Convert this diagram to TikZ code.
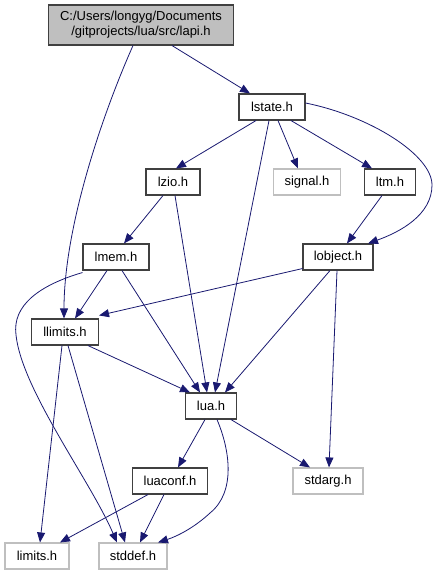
\documentclass[tikz,border=0pt]{standalone}
\usepackage{fontspec}
\setmainfont{Liberation Sans}
\usepackage{xcolor}
\usepackage{tikz}
\usetikzlibrary{arrows.meta}
\definecolor{edgeblue}{HTML}{191970}
\definecolor{sysgray}{HTML}{BFBFBF}
\definecolor{hdrline}{HTML}{404040}

\begin{document}
\begin{tikzpicture}[x=1pt, y=-1pt,
  hdr/.style={draw=hdrline, line width=1.1pt, fill=white, align=center, inner sep=2pt,
              font=\fontsize{13}{15}\selectfont, minimum height=26pt},
  sys/.style={hdr, draw=sysgray},
  root/.style={hdr, fill=sysgray},
  arr/.style={-{Triangle[length=10pt, width=8pt]}, line width=0.8pt, edgeblue}]
  \useasboundingbox (0,0) rectangle (439,575);
  \node[root, minimum width=185pt, minimum height=40pt] (lapi) at (141,25) {C:/Users/longyg/Documents\\/gitprojects/lua/src/lapi.h};
  \node[hdr, minimum width=66pt] (lstate) at (272,107) {lstate.h};
  \node[hdr, minimum width=54pt] (lzio) at (173,182) {lzio.h};
  \node[sys, minimum width=67pt] (signal) at (307,182) {signal.h};
  \node[hdr, minimum width=51pt] (ltm) at (390,182) {ltm.h};
  \node[hdr, minimum width=66pt] (lmem) at (116,257) {lmem.h};
  \node[hdr, minimum width=70pt] (lobject) at (338,257) {lobject.h};
  \node[hdr, minimum width=67pt] (llimits) at (65,332) {llimits.h};
  \node[hdr, minimum width=51pt] (lua) at (211,406) {lua.h};
  \node[hdr, minimum width=75pt] (luaconf) at (170,481) {luaconf.h};
  \node[sys, minimum width=70pt] (stdarg) at (328,481) {stdarg.h};
  \node[sys, minimum width=64pt] (limits) at (37,556) {limits.h};
  \node[sys, minimum width=68pt] (stddef) at (133,556) {stddef.h};
  % lapi.h
  \draw[arr] ([xshift=31pt]lapi.south) -- ([xshift=-22pt]lstate.north);
  \draw[arr] ([xshift=-8pt]lapi.south) .. controls (100,120) and (64,230) .. ([xshift=-1pt]llimits.north);
  % lstate.h
  \draw[arr] ([xshift=-16pt]lstate.south) -- ([xshift=3pt]lzio.north);
  \draw[arr] ([xshift=-3pt]lstate.south) -- ([xshift=4pt]lua.north);
  \draw[arr] ([xshift=6pt]lstate.south) -- ([xshift=-9pt]signal.north);
  \draw[arr] ([xshift=19pt]lstate.south) -- ([xshift=-18pt]ltm.north);
  \draw[arr] ([yshift=4pt]lstate.east) .. controls (370,116) and (432,155) .. (432,185)
    .. controls (432,215) and (400,232) .. ([xshift=30pt]lobject.north);
  % lzio.h, ltm.h
  \draw[arr] ([xshift=-10pt]lzio.south) -- ([xshift=8pt]lmem.north);
  \draw[arr] ([xshift=2pt]lzio.south) -- ([xshift=-4pt]lua.north);
  \draw[arr] ([xshift=-8pt]ltm.south) -- ([xshift=9pt]lobject.north);
  % lmem.h
  \draw[arr] ([xshift=-9pt]lmem.south) -- ([xshift=10pt]llimits.north);
  \draw[arr] ([xshift=6pt]lmem.south) -- ([xshift=-11pt]lua.north);
  \draw[arr] ([yshift=-2pt]lmem.south west) .. controls (40,285) and (12,305) .. (16,335)
    .. controls (22,390) and (90,480) .. ([xshift=-16pt]stddef.north);
  % lobject.h
  \draw[arr] ([yshift=2pt]lobject.south west) -- ([yshift=3pt]llimits.north east);
  \draw[arr] ([xshift=-8pt]lobject.south) -- ([xshift=14pt]lua.north);
  \draw[arr] ([xshift=-1pt]lobject.south) -- ([xshift=1pt]stdarg.north);
  % llimits.h
  \draw[arr] ([xshift=23pt]llimits.south) -- ([xshift=-21pt]lua.north);
  \draw[arr] ([xshift=-3pt]llimits.south) -- ([xshift=3pt]limits.north);
  \draw[arr] ([xshift=3pt]llimits.south) -- ([xshift=-8pt]stddef.north);
  % lua.h
  \draw[arr] ([xshift=-6pt]lua.south) -- ([xshift=8pt]luaconf.north);
  \draw[arr] ([xshift=6pt]lua.south) .. controls (230,450) and (236,492) .. (210,513)
    .. controls (195,527) and (178,536) .. ([xshift=25pt]stddef.north);
  \draw[arr] ([xshift=20pt]lua.south) -- ([xshift=-18pt]stdarg.north);
  % luaconf.h
  \draw[arr] ([xshift=-22pt]luaconf.south) -- ([xshift=23pt]limits.north);
  \draw[arr] ([xshift=-6pt]luaconf.south) -- ([xshift=7pt]stddef.north);
\end{tikzpicture}
\end{document}
